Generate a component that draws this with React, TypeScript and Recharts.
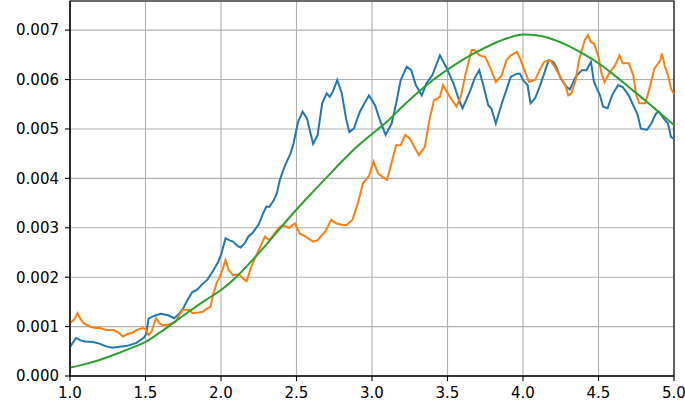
import React from "react";
import { LineChart, Line, XAxis, YAxis, CartesianGrid, ReferenceArea } from "recharts";

const blueX = [1.00,1.04,1.07,1.10,1.15,1.19,1.24,1.28,1.33,1.38,1.44,1.49,1.505,1.52,1.56,1.60,1.65,1.69,1.72,1.75,1.78,1.81,1.84,1.88,1.91,1.95,1.98,2.00,2.03,2.06,2.08,2.11,2.13,2.16,2.18,2.21,2.25,2.28,2.30,2.32,2.35,2.37,2.39,2.42,2.44,2.46,2.48,2.51,2.54,2.57,2.59,2.61,2.64,2.67,2.70,2.72,2.74,2.77,2.80,2.83,2.85,2.88,2.92,2.95,2.98,3.02,3.05,3.09,3.13,3.16,3.19,3.23,3.26,3.29,3.33,3.36,3.40,3.45,3.49,3.54,3.58,3.60,3.65,3.68,3.71,3.74,3.77,3.79,3.82,3.86,3.89,3.92,3.96,3.98,4.00,4.03,4.05,4.08,4.11,4.14,4.17,4.20,4.22,4.25,4.29,4.31,4.35,4.39,4.42,4.45,4.47,4.51,4.53,4.56,4.59,4.63,4.66,4.70,4.73,4.76,4.78,4.82,4.85,4.88,4.90,4.94,4.96,4.98,5.00];
const blueY = [0.00059,0.00077,0.00072,0.00070,0.00069,0.00066,0.00060,0.00057,0.00059,0.00061,0.00067,0.00078,0.00085,0.00116,0.00122,0.00126,0.00123,0.00117,0.00125,0.00137,0.00155,0.00170,0.00174,0.00187,0.00195,0.00214,0.00230,0.00245,0.00279,0.00274,0.00272,0.00263,0.00260,0.00270,0.00282,0.00290,0.00307,0.00330,0.00343,0.00342,0.00356,0.00370,0.00397,0.00423,0.00437,0.00450,0.00470,0.00514,0.00535,0.00521,0.00495,0.00470,0.00488,0.00552,0.00572,0.00565,0.00575,0.00599,0.00572,0.00518,0.00494,0.00501,0.00535,0.00552,0.00568,0.00548,0.00520,0.00488,0.00511,0.00552,0.00599,0.00626,0.00619,0.00589,0.00568,0.00592,0.00609,0.00649,0.00626,0.00592,0.00555,0.00542,0.00577,0.00603,0.00619,0.00585,0.00548,0.00542,0.00511,0.00552,0.00579,0.00606,0.00612,0.00612,0.00599,0.00589,0.00552,0.00562,0.00585,0.00612,0.00639,0.00636,0.00626,0.00602,0.00585,0.00580,0.00606,0.00619,0.00619,0.00636,0.00595,0.00568,0.00545,0.00542,0.00568,0.00589,0.00585,0.00568,0.00548,0.00528,0.00501,0.00498,0.00511,0.00531,0.00535,0.00518,0.00511,0.00484,0.00480];

const orangeX = [1.00,1.03,1.05,1.07,1.09,1.13,1.17,1.20,1.24,1.29,1.32,1.35,1.38,1.41,1.44,1.48,1.50,1.52,1.54,1.57,1.59,1.61,1.64,1.68,1.70,1.73,1.75,1.79,1.81,1.86,1.88,1.91,1.93,1.95,1.97,1.99,2.01,2.03,2.05,2.08,2.12,2.15,2.17,2.20,2.22,2.25,2.28,2.29,2.32,2.34,2.37,2.39,2.41,2.45,2.49,2.52,2.56,2.61,2.64,2.69,2.73,2.76,2.80,2.83,2.87,2.91,2.94,2.98,3.01,3.04,3.07,3.10,3.14,3.16,3.19,3.22,3.25,3.28,3.31,3.35,3.38,3.41,3.45,3.47,3.51,3.56,3.59,3.62,3.66,3.68,3.71,3.75,3.78,3.82,3.86,3.89,3.92,3.96,3.98,4.01,4.04,4.08,4.11,4.14,4.18,4.21,4.24,4.28,4.30,4.32,4.35,4.37,4.41,4.43,4.45,4.47,4.50,4.52,4.54,4.57,4.61,4.64,4.66,4.70,4.73,4.75,4.77,4.81,4.84,4.87,4.91,4.92,4.94,4.96,4.98,5.00];
const orangeY = [0.00107,0.00115,0.00127,0.00115,0.00107,0.00100,0.00097,0.00097,0.00093,0.00093,0.00088,0.00080,0.00085,0.00087,0.00093,0.00097,0.00095,0.00083,0.00090,0.00117,0.00107,0.00103,0.00103,0.00107,0.00110,0.00127,0.00134,0.00134,0.00127,0.00129,0.00130,0.00137,0.00140,0.00167,0.00187,0.00200,0.00215,0.00235,0.00215,0.00204,0.00206,0.00196,0.00192,0.00221,0.00235,0.00255,0.00275,0.00282,0.00275,0.00282,0.00295,0.00302,0.00305,0.00300,0.00309,0.00289,0.00282,0.00272,0.00275,0.00292,0.00316,0.00309,0.00306,0.00305,0.00316,0.00353,0.00390,0.00405,0.00434,0.00410,0.00403,0.00397,0.00444,0.00467,0.00467,0.00488,0.00481,0.00464,0.00447,0.00464,0.00518,0.00558,0.00565,0.00589,0.00568,0.00545,0.00568,0.00612,0.00660,0.00660,0.00649,0.00646,0.00626,0.00595,0.00609,0.00639,0.00649,0.00656,0.00643,0.00619,0.00595,0.00599,0.00619,0.00636,0.00639,0.00626,0.00609,0.00589,0.00568,0.00572,0.00600,0.00639,0.00680,0.00690,0.00676,0.00673,0.00646,0.00612,0.00595,0.00612,0.00629,0.00649,0.00633,0.00633,0.00609,0.00568,0.00552,0.00552,0.00585,0.00622,0.00639,0.00653,0.00626,0.00609,0.00582,0.00570];

const greenX = [1.0,1.1,1.2,1.3,1.4,1.5,1.6,1.7,1.8,1.9,2.0,2.1,2.2,2.3,2.4,2.5,2.6,2.7,2.8,2.9,3.0,3.1,3.2,3.3,3.4,3.5,3.6,3.7,3.8,3.9,4.0,4.1,4.2,4.3,4.4,4.5,4.6,4.7,4.8,4.9,5.0];
const greenY = [0.00017,0.00024,0.00033,0.00044,0.00056,0.00069,0.00089,0.00111,0.00133,0.00154,0.00174,0.00200,0.00232,0.00266,0.00302,0.00337,0.00370,0.00402,0.00434,0.00464,0.00490,0.00515,0.00545,0.00573,0.00598,0.00620,0.00640,0.00657,0.00672,0.00684,0.00691,0.00689,0.00681,0.00668,0.00652,0.00633,0.00610,0.00585,0.00560,0.00534,0.00508];

const xTicks = [1.0, 1.5, 2.0, 2.5, 3.0, 3.5, 4.0, 4.5, 5.0];
const yTicks = [0, 0.001, 0.002, 0.003, 0.004, 0.005, 0.006, 0.007];

const toData = (xs: number[], ys: number[]) => xs.map((x, i) => ({ x, y: ys[i] }));
const blueData = toData(blueX, blueY);
const orangeData = toData(orangeX, orangeY);
const greenData = toData(greenX, greenY);

const tickStyle = { fontFamily: "DejaVu Sans", fontSize: 15, fill: "#000" };

export default function App() {
  return (
    <div style={{ position: "absolute", left: 0, top: 0 }}>
      <LineChart width={685} height={409} margin={{ top: 1, right: 11, bottom: 3, left: 0 }}>
        <CartesianGrid stroke="#b0b0b0" strokeWidth={1.1} />
        <XAxis
          type="number"
          dataKey="x"
          domain={[1, 5]}
          ticks={xTicks}
          tickFormatter={(v: number) => v.toFixed(1)}
          allowDataOverflow
          height={30}
          tickSize={5}
          tickMargin={6}
          tick={tickStyle}
          axisLine={{ stroke: "#000", strokeWidth: 1.1 }}
          tickLine={{ stroke: "#000", strokeWidth: 1.1 }}
        />
        <YAxis
          type="number"
          dataKey="y"
          domain={[0, 0.00759]}
          ticks={yTicks}
          tickFormatter={(v: number) => v.toFixed(3)}
          allowDataOverflow
          width={70}
          tickSize={5}
          tickMargin={6}
          tick={tickStyle}
          axisLine={{ stroke: "#000", strokeWidth: 1.1 }}
          tickLine={{ stroke: "#000", strokeWidth: 1.1 }}
        />
        <Line data={blueData} dataKey="y" type="linear" stroke="#1f77b4" strokeWidth={2} dot={false} isAnimationActive={false} />
        <Line data={orangeData} dataKey="y" type="linear" stroke="#ff7f0e" strokeWidth={2} dot={false} isAnimationActive={false} />
        <Line data={greenData} dataKey="y" type="monotone" stroke="#2ca02c" strokeWidth={2} dot={false} isAnimationActive={false} />
        <ReferenceArea x1={1} x2={5} y1={0} y2={0.00759} fill="none" stroke="#000" strokeWidth={1.1} ifOverflow="visible" />
      </LineChart>
    </div>
  );
}
